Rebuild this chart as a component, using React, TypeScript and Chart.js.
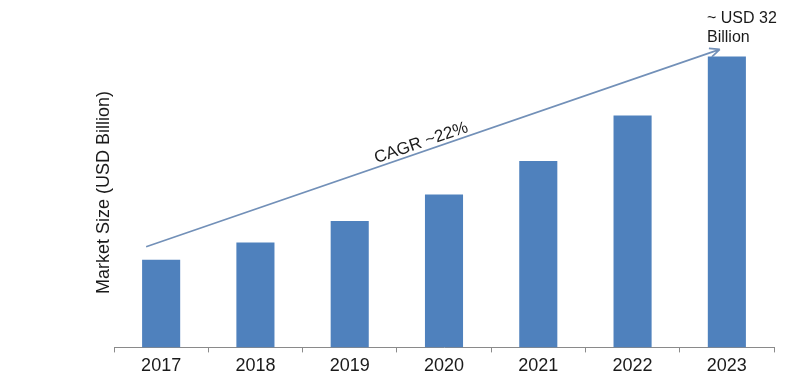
import React, { useEffect, useRef } from "react";
import { Chart, registerables } from "chart.js";

Chart.register(...registerables);

const categories = ["2017", "2018", "2019", "2020", "2021", "2022", "2023"];
const marketSize = [9.63, 11.54, 13.9, 16.8, 20.5, 25.5, 32];
const yTitle = "Market Size (USD Billion)";
const cagrLabel = "CAGR ~22%";
const endLabel = ["~ USD 32", "Billion"];

const FONT = "'Liberation Sans', Arial, sans-serif";

const annotationPlugin = {
  id: "annotations",
  afterDraw(chart: any) {
    const { ctx, chartArea, scales } = chart;
    const x = scales.x;
    const y = scales.y;
    ctx.save();
    // y-axis title
    ctx.fillStyle = "#1a1a1a";
    ctx.font = `18px ${FONT}`;
    ctx.textAlign = "center";
    ctx.textBaseline = "middle";
    ctx.translate(104.5, 192.5);
    ctx.rotate(-Math.PI / 2);
    ctx.fillText(yTitle, 0, 0);
    ctx.restore();

    // CAGR arrow
    const x0 = x.getPixelForValue(0) - 15;
    const y0 = y.getPixelForValue(marketSize[0]) - 13;
    const n = marketSize.length - 1;
    const x1 = x.getPixelForValue(n) - 7;
    const y1 = y.getPixelForValue(marketSize[n]) - 7;
    ctx.save();
    ctx.strokeStyle = "#7290b8";
    ctx.lineWidth = 1.6;
    ctx.beginPath();
    ctx.moveTo(x0, y0);
    ctx.lineTo(x1, y1);
    const ang = Math.atan2(y1 - y0, x1 - x0);
    const hl = 11;
    ctx.moveTo(x1, y1);
    ctx.lineTo(x1 - hl * Math.cos(ang - 0.42), y1 - hl * Math.sin(ang - 0.42));
    ctx.moveTo(x1, y1);
    ctx.lineTo(x1 - hl * Math.cos(ang + 0.42), y1 - hl * Math.sin(ang + 0.42));
    ctx.stroke();

    // CAGR text
    const tx = 424;
    const t = (tx - x0) / (x1 - x0);
    const ty = y0 + t * (y1 - y0);
    ctx.translate(tx, ty);
    ctx.rotate(ang);
    ctx.fillStyle = "#1a1a1a";
    ctx.font = `17px ${FONT}`;
    ctx.textAlign = "center";
    ctx.textBaseline = "alphabetic";
    ctx.fillText(cagrLabel, 0, -4);
    ctx.restore();

    // end label
    ctx.save();
    ctx.fillStyle = "#1a1a1a";
    ctx.font = `16px ${FONT}`;
    ctx.textAlign = "left";
    ctx.textBaseline = "alphabetic";
    ctx.fillText(endLabel[0], 707, 23);
    ctx.fillText(endLabel[1], 707, 42);
    ctx.restore();
  },
};

export default function App() {
  const ref = useRef<HTMLCanvasElement | null>(null);
  useEffect(() => {
    if (!ref.current) return;
    const chart = new Chart(ref.current, {
      type: "bar",
      data: {
        labels: categories,
        datasets: [
          {
            data: marketSize,
            backgroundColor: "#4f81bd",
            borderWidth: 0,
            barPercentage: 0.8,
            categoryPercentage: 0.505,
          },
        ],
      },
      options: {
        animation: false,
        responsive: false,
        layout: { padding: { left: 114, right: 26, top: 20, bottom: 5 } },
        plugins: { legend: { display: false }, tooltip: { enabled: false } },
        scales: {
          x: {
            grid: {
              drawOnChartArea: false,
              drawTicks: true,
              tickLength: 5,
              color: "#8a8a8a",
              offset: true,
            },
            border: { display: true, color: "#8a8a8a", width: 1 },
            ticks: {
              color: "#1a1a1a",
              font: { family: FONT, size: 18 },
              padding: 3,
            },
          },
          y: {
            display: false,
            min: 0,
            max: 36,
          },
        },
      },
      plugins: [annotationPlugin],
    });
    return () => chart.destroy();
  }, []);
  return (
    <div style={{ position: "fixed", left: 0, top: 0, width: 800, height: 385, background: "#fff" }}>
      <canvas ref={ref} width={800} height={385} />
    </div>
  );
}
